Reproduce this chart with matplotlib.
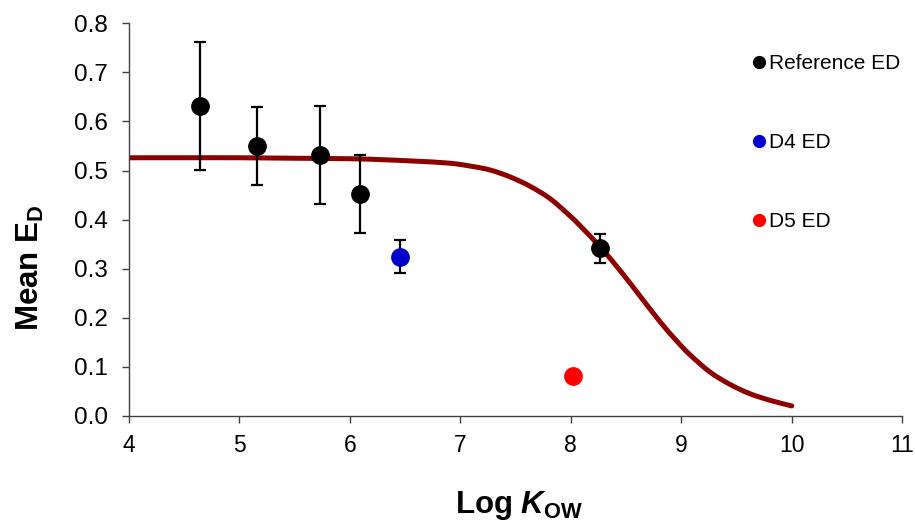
import numpy as np
import matplotlib
matplotlib.use('Agg')
import matplotlib.pyplot as plt
from matplotlib.path import Path
from matplotlib.patches import PathPatch

# 字体设置
plt.rcParams['font.family'] = ['Liberation Sans', 'DejaVu Sans']
plt.rcParams['mathtext.fontset'] = 'custom'
plt.rcParams['mathtext.rm'] = 'Liberation Sans:bold'
plt.rcParams['mathtext.bf'] = 'Liberation Sans:bold'
plt.rcParams['mathtext.it'] = 'Liberation Sans:italic:bold'

# 参考化合物
ref_x = [4.64, 5.16, 5.73, 6.09, 8.26]
ref_y = [0.632, 0.550, 0.531, 0.452, 0.341]
ref_err = [0.130, 0.080, 0.100, 0.080, 0.030]

# D4 / D5
d4_x = [6.45]
d4_y = [0.324]
d4_err = [0.034]
d5_x = [8.02]
d5_y = [0.080]

# 模型曲线
curve_x = [4.0, 4.5, 5.0, 5.5, 6.0, 6.3, 6.6, 6.9, 7.09, 7.27, 7.45, 7.63,
           7.81, 7.98, 8.09, 8.27, 8.45, 8.63, 8.81, 8.96, 9.08, 9.26, 9.44,
           9.62, 9.81, 10.0]
curve_y = [0.526, 0.526, 0.526, 0.525, 0.524, 0.522, 0.519, 0.515, 0.509,
           0.501, 0.487, 0.468, 0.443, 0.410, 0.386, 0.343, 0.295, 0.243,
           0.191, 0.152, 0.124, 0.089, 0.064, 0.045, 0.031, 0.020]


def smooth_path(xs, ys):
	"""平滑折线（Catmull-Rom 转三次贝塞尔）"""
	p = np.column_stack([xs, ys])
	verts = [p[0]]
	codes = [Path.MOVETO]
	for i in range(len(p) - 1):
		p0 = p[max(i - 1, 0)]
		p1, p2 = p[i], p[i + 1]
		p3 = p[min(i + 2, len(p) - 1)]
		verts += [p1 + (p2 - p0) / 6, p2 - (p3 - p1) / 6, p2]
		codes += [Path.CURVE4] * 3
	return Path(verts, codes)


fig = plt.figure(figsize=(9.15, 5.22), dpi=100)
ax = fig.add_axes([0.141, 0.2036, 0.845, 0.7516])

ax.add_patch(PathPatch(smooth_path(curve_x, curve_y), facecolor='none',
                       edgecolor='#8c0000', linewidth=3.6, capstyle='round',
                       joinstyle='round', zorder=2))

ax.errorbar(ref_x, ref_y, yerr=ref_err, fmt='none', ecolor='black',
            elinewidth=1.6, capsize=4.5, capthick=1.6, zorder=3)
ax.errorbar(d4_x, d4_y, yerr=d4_err, fmt='none', ecolor='black',
            elinewidth=1.6, capsize=4.5, capthick=1.6, zorder=3)

ax.plot(ref_x, ref_y, 'o', color='black', markersize=12.5, zorder=4)
ax.plot(d4_x, d4_y, 'o', color='#0000cc', markersize=12.5, zorder=4)
ax.plot(d5_x, d5_y, 'o', color='#ff0000', markersize=12.5, zorder=4)

# 图例
h1, = ax.plot([], [], 'o', color='black', markersize=8.5, label='Reference ED')
h2, = ax.plot([], [], 'o', color='#0000cc', markersize=8.5, label='D4 ED')
h3, = ax.plot([], [], 'o', color='#ff0000', markersize=8.5, label='D5 ED')
ax.legend(handles=[h1, h2, h3], loc='upper left',
          bbox_to_anchor=(0.796, 0.942), frameon=False, fontsize=15,
          handlelength=0.6, handletextpad=0.2, labelspacing=2.88,
          borderaxespad=0)

ax.set_xlim(4, 11)
ax.set_ylim(0, 0.8)
ax.set_xticks(np.arange(4, 12, 1))
ax.set_yticks(np.arange(0, 0.81, 0.1))
ax.yaxis.set_major_formatter(matplotlib.ticker.FormatStrFormatter('%.1f'))

ax.spines['right'].set_visible(False)
ax.spines['top'].set_visible(False)
for s in ['left', 'bottom']:
	ax.spines[s].set_color('#404040')
	ax.spines[s].set_linewidth(1.0)
ax.tick_params(direction='out', length=5, width=1.0, color='#404040')
ax.tick_params(axis='y', pad=10, labelsize=17.5)
ax.tick_params(axis='x', pad=8.5, labelsize=16.5)

ax.set_ylabel(r'Mean E$_{\mathbf{D}}$', fontsize=22.5, fontweight='bold')
ax.set_xlabel(r'Log $K_{\mathbf{OW}}$', fontsize=22.5, fontweight='bold')
ax.yaxis.set_label_coords(-0.108, 0.378)
ax.xaxis.set_label_coords(0.505, -0.188)

fig.savefig('out.png', dpi=100)
